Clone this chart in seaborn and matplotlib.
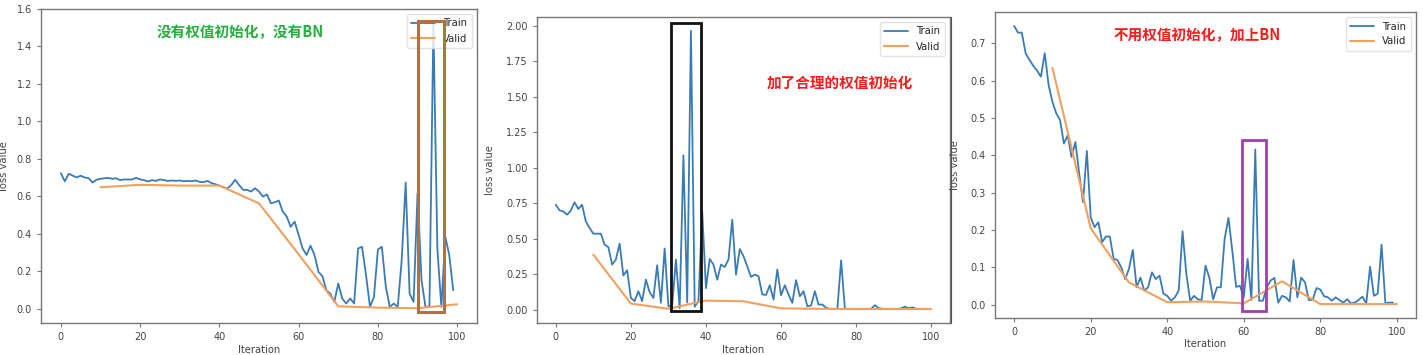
import numpy as np
import pandas as pd
import matplotlib
matplotlib.use("Agg")
import matplotlib.pyplot as plt
import seaborn as sns
from matplotlib.patches import Rectangle
from matplotlib.lines import Line2D

# ---------------- data ----------------
iters = list(range(100))
valid_iters = [10, 20, 30, 40, 50, 60, 70, 80, 90, 100]

train_1 = [0.723, 0.68, 0.72, 0.71, 0.70, 0.71, 0.70, 0.697, 0.673, 0.688,
           0.693, 0.696, 0.698, 0.693, 0.696, 0.686, 0.69, 0.689, 0.69, 0.698,
           0.69, 0.686, 0.679, 0.686, 0.682, 0.69, 0.686, 0.682, 0.684, 0.682,
           0.684, 0.68, 0.682, 0.68, 0.684, 0.677, 0.675, 0.682, 0.67, 0.664,
           0.657, 0.648, 0.641, 0.66, 0.688, 0.659, 0.634, 0.634, 0.625, 0.643,
           0.625, 0.598, 0.61, 0.562, 0.568, 0.577, 0.518, 0.491, 0.437, 0.464,
           0.393, 0.321, 0.286, 0.336, 0.286, 0.196, 0.173, 0.098, 0.08, 0.036,
           0.134, 0.054, 0.027, 0.054, 0.027, 0.321, 0.33, 0.179, 0.009, 0.063,
           0.316, 0.33, 0.116, 0.009, 0.027, 0.009, 0.259, 0.673, 0.08, 0.036,
           0.616, 0.152, 0.009, 0.012, 1.52, 0.321, 0.009, 0.384, 0.286, 0.098]
valid_1 = [0.648, 0.661, 0.657, 0.657, 0.562, 0.29, 0.012, 0.005, 0.002, 0.023]

train_2 = [0.739, 0.70, 0.692, 0.669, 0.697, 0.756, 0.709, 0.739, 0.622, 0.575,
           0.535, 0.535, 0.535, 0.458, 0.44, 0.317, 0.352, 0.465, 0.24, 0.277,
           0.082, 0.059, 0.129, 0.059, 0.211, 0.122, 0.082, 0.312, 0.047, 0.43,
           0.023, 0.028, 0.352, 0.01, 1.087, 0.05, 1.965, 0.02, 0.06, 0.69,
           0.15, 0.357, 0.317, 0.21, 0.317, 0.30, 0.352, 0.634, 0.246, 0.427,
           0.376, 0.305, 0.23, 0.246, 0.235, 0.106, 0.103, 0.171, 0.07, 0.282,
           0.10, 0.171, 0.106, 0.047, 0.207, 0.094, 0.129, 0.023, 0.028, 0.129,
           0.035, 0.035, 0.012, 0.005, 0.005, 0.005, 0.347, 0.005, 0.005, 0.005,
           0.005, 0.005, 0.005, 0.005, 0.005, 0.03, 0.01, 0.005, 0.005, 0.005,
           0.005, 0.005, 0.008, 0.02, 0.008, 0.015, 0.005, 0.005, 0.005, 0.005]
valid_2 = [0.387, 0.042, 0.005, 0.063, 0.058, 0.008, 0.005, 0.003, 0.003, 0.003]

train_3 = [0.747, 0.729, 0.729, 0.674, 0.656, 0.64, 0.627, 0.611, 0.674, 0.589,
           0.544, 0.513, 0.495, 0.432, 0.454, 0.396, 0.436, 0.351, 0.275, 0.412,
           0.235, 0.208, 0.221, 0.168, 0.183, 0.183, 0.123, 0.12, 0.10, 0.069,
           0.096, 0.147, 0.047, 0.073, 0.038, 0.047, 0.087, 0.069, 0.078, 0.03,
           0.024, 0.011, 0.02, 0.038, 0.197, 0.082, 0.011, 0.024, 0.015, 0.013,
           0.105, 0.073, 0.015, 0.047, 0.047, 0.177, 0.233, 0.145, 0.048, 0.051,
           0.02, 0.123, 0.013, 0.416, 0.011, 0.011, 0.047, 0.065, 0.072, 0.006,
           0.024, 0.02, 0.009, 0.12, 0.02, 0.073, 0.06, 0.013, 0.013, 0.045,
           0.041, 0.023, 0.02, 0.011, 0.02, 0.013, 0.006, 0.015, 0.004, 0.006,
           0.013, 0.022, 0.004, 0.102, 0.024, 0.03, 0.161, 0.004, 0.006, 0.006]
valid_3 = [0.635, 0.205, 0.06, 0.007, 0.009, 0.004, 0.063, 0.002, 0.002, 0.002]

titles = ["没有权值初始化，没有BN", "加了合理的权值初始化", "不用权值初始化，加上BN"]
x_label = "Iteration"
y_label = "loss value"
series_names = ["Train", "Valid"]

# ---------------- style ----------------
sns.set_style("ticks")
plt.rcParams["font.family"] = ["DejaVu Sans"]
plt.rcParams["axes.edgecolor"] = "#777777"
plt.rcParams["xtick.color"] = "#777777"
plt.rcParams["ytick.color"] = "#777777"
plt.rcParams["xtick.labelcolor"] = "#444444"
plt.rcParams["ytick.labelcolor"] = "#444444"
plt.rcParams["axes.labelcolor"] = "#444444"

train_color = "#3b7bb5"
valid_color = "#f0a160"

W, H = 1423, 355
fig = plt.figure(figsize=(W / 100, H / 100), dpi=100)

def px_axes(l, t, r, b):
    return fig.add_axes([l / W, 1 - b / H, (r - l) / W, (b - t) / H])

ax1 = px_axes(41, 9, 477, 323)
ax2 = px_axes(537, 17, 950, 323)
ax3 = px_axes(995, 12, 1416, 318)

panels = [
    (ax1, train_1, valid_1),
    (ax2, train_2, valid_2),
    (ax3, train_3, valid_3),
]

for ax, tr, va in panels:
    sns.lineplot(x=iters, y=tr, ax=ax, color=train_color, lw=1.3, label=series_names[0])
    sns.lineplot(x=valid_iters, y=va, ax=ax, color=valid_color, lw=1.5, label=series_names[1])
    ax.set_xlabel(x_label, fontsize=7.2)
    ax.set_ylabel(y_label, fontsize=7.2)
    ax.tick_params(labelsize=7, length=3, width=0.8)
    for s in ax.spines.values():
        s.set_linewidth(1.0)
    ax.set_xticks([0, 20, 40, 60, 80, 100])
    ax.set_xlim(-5, 105)
    leg = ax.legend(loc="upper right", fontsize=7.2, framealpha=0.8,
                    handlelength=2.4, borderpad=0.45, labelspacing=0.5)
    leg.get_frame().set_edgecolor("#dddddd")

ax1.set_ylim(-0.077, 1.6)
ax1.set_yticks([0.0, 0.2, 0.4, 0.6, 0.8, 1.0, 1.2, 1.4, 1.6])
ax1.set_yticklabels(["0.0", "0.2", "0.4", "0.6", "0.8", "1.0", "1.2", "1.4", "1.6"])
ax2.set_yticks([0.0, 0.25, 0.5, 0.75, 1.0, 1.25, 1.5, 1.75, 2.0])
ax2.set_yticklabels(["0.00", "0.25", "0.50", "0.75", "1.00", "1.25", "1.50", "1.75", "2.00"])
ax3.set_yticks([0.0, 0.1, 0.2, 0.3, 0.4, 0.5, 0.6, 0.7])
ax3.set_yticklabels(["0.0", "0.1", "0.2", "0.3", "0.4", "0.5", "0.6", "0.7"])

ax1.yaxis.set_label_coords(-0.074, 0.5)
ax2.yaxis.set_label_coords(-0.101, 0.5)
ax3.yaxis.set_label_coords(-0.083, 0.5)
ax1.xaxis.set_label_coords(0.5, -0.07)
ax2.xaxis.set_label_coords(0.5, -0.073)
ax3.xaxis.set_label_coords(0.5, -0.07)

# highlight boxes
ax1.add_patch(Rectangle((90.2, -0.018), 6.4, 1.555, fill=False, edgecolor="#b5703f",
                        lw=2.2, zorder=6, clip_on=False))
ax2.add_patch(Rectangle((30.6, -0.012), 8.0, 2.032, fill=False, edgecolor="#111111",
                        lw=2.0, zorder=6, clip_on=False))
ax3.add_patch(Rectangle((59.65, -0.016), 6.15, 0.457, fill=False, edgecolor="#a03fb0",
                        lw=2.0, zorder=6, clip_on=False))

# annotations
cjk = ["Noto Sans CJK SC", "DejaVu Sans"]
fig.text(240 / W, 1 - 32 / H, titles[0], color="#22b03c", fontsize=10.5,
         fontweight="bold", ha="center", va="center", family=cjk)
fig.text(840 / W, 1 - 83 / H, titles[1], color="#ff1a1a", fontsize=10.5,
         fontweight="bold", ha="center", va="center", family=cjk)
fig.text(1197 / W, 1 - 35 / H, titles[2], color="#ff1a1a", fontsize=10.5,
         fontweight="bold", ha="center", va="center", family=cjk)

# screenshot separator line
fig.add_artist(Line2D([951 / W, 951 / W], [1 - 323 / H, 1 - 17 / H],
                      color="#555555", lw=0.8, transform=fig.transFigure))

fig.savefig("out.png", dpi=100, facecolor="white")
